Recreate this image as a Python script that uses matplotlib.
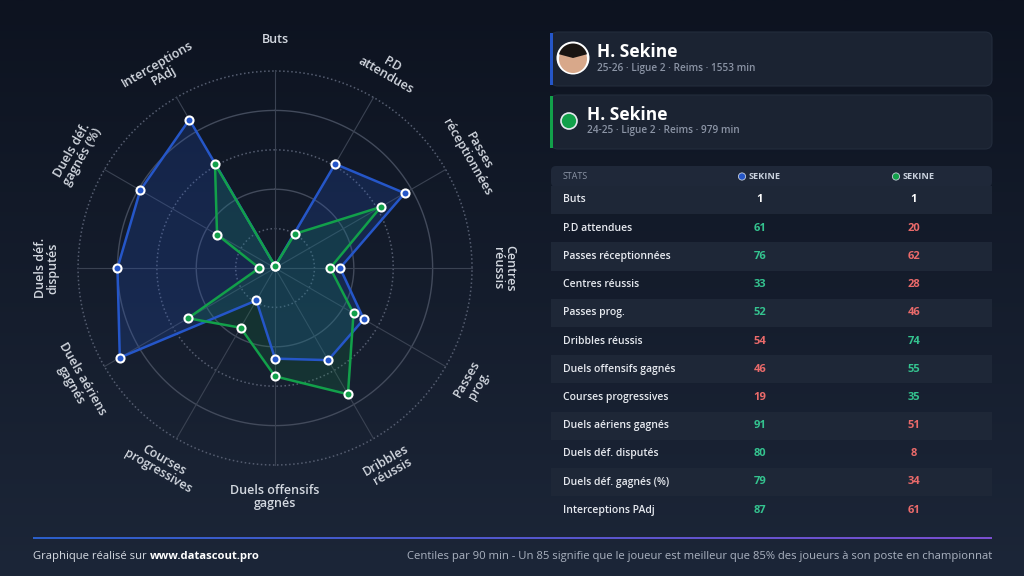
import numpy as np
import matplotlib
matplotlib.use("Agg")
import matplotlib.pyplot as plt
import matplotlib.patches as mpatches
from matplotlib.colors import LinearSegmentedColormap

plt.rcParams['font.family'] = ['Open Sans', 'DejaVu Sans']

# data
stats = ["Buts", "P.D attendues", "Passes réceptionnées", "Centres réussis",
         "Passes prog.", "Dribbles réussis", "Duels offensifs gagnés",
         "Courses progressives", "Duels aériens gagnés", "Duels déf. disputés",
         "Duels déf. gagnés (%)", "Interceptions PAdj"]
radar_labels = ["Buts", "P.D\nattendues", "Passes\nréceptionnées", "Centres\nréussis",
                "Passes\nprog.", "Dribbles\nréussis", "Duels offensifs\ngagnés",
                "Courses\nprogressives", "Duels aériens\ngagnés", "Duels déf.\ndisputés",
                "Duels déf.\ngagnés (%)", "Interceptions\nPAdj"]
vals_2526 = [1, 61, 76, 33, 52, 54, 46, 19, 91, 80, 79, 87]
vals_2425 = [1, 20, 62, 28, 46, 74, 55, 35, 51, 8, 34, 61]

player = "H. Sekine"
sub_2526 = "25-26 · Ligue 2 · Reims · 1553 min"
sub_2425 = "24-25 · Ligue 2 · Reims · 979 min"
col_name = "SEKINE"

BLUE = '#2556c8'
GREEN = '#12a04a'
UP = '#34c38f'
DOWN = '#ea6a6a'
TXT = '#e6e9ef'
MUTED = '#8b94a5'
CARD = '#1b2332'


def main():
    fig = plt.figure(figsize=(10.24, 5.76), dpi=100)

    # background layer in pixel coords
    bg = fig.add_axes([0, 0, 1, 1])
    bg.set_xlim(0, 1024)
    bg.set_ylim(576, 0)
    bg.axis('off')
    grad = np.linspace(0, 1, 256).reshape(-1, 1)
    cmap = LinearSegmentedColormap.from_list('bg', ['#0d1320', '#1c2638'])
    bg.imshow(grad, extent=[0, 1024, 576, 0], cmap=cmap, aspect='auto', zorder=0)

    # player cards
    cards = [(32, BLUE, sub_2526, True), (95, GREEN, sub_2425, False)]
    for top, col, sub, photo in cards:
        bg.add_patch(mpatches.FancyBboxPatch((551, top), 441, 54,
                     boxstyle="round,pad=0,rounding_size=7",
                     fc=CARD, ec='#232c3c', lw=0.8, zorder=1))
        bg.add_patch(mpatches.Rectangle((550, top + 1), 3, 52, fc=col, zorder=2))
        if photo:
            bg.add_patch(mpatches.Circle((573, top + 26), 16.5, fc='white', zorder=2))
            bg.add_patch(mpatches.Circle((573, top + 27), 14, fc='#d8a88a', zorder=3))
            bg.add_patch(mpatches.Wedge((573, top + 26), 14.5, 195, 345, fc='#1a1512', zorder=4))
            tx = 597
        else:
            bg.add_patch(mpatches.Circle((569, top + 26), 8, fc=GREEN, ec='#e6e9ef', lw=1.2, zorder=3))
            tx = 587
        bg.text(tx, top + 20, player, color='white', fontsize=12.5, fontweight='bold',
                va='center', ha='left', zorder=5)
        bg.text(tx, top + 36, sub, color=MUTED, fontsize=7.2, fontweight='semibold',
                va='center', ha='left', zorder=5)

    # stats table
    cx1, cx2 = 760, 914
    bg.add_patch(mpatches.FancyBboxPatch((551, 166), 441, 21,
                 boxstyle="round,pad=0,rounding_size=5", fc='#1f2839', ec='none', zorder=1))
    bg.text(563, 176.5, "STATS", color=MUTED, fontsize=6.4, va='center', ha='left', zorder=5)
    for cx, col in [(cx1, BLUE), (cx2, GREEN)]:
        bg.add_patch(mpatches.Circle((cx - 18, 176.5), 3.6, fc=col, ec='#c8d0dc', lw=0.6, zorder=5))
        bg.text(cx - 11, 176.5, col_name, color='#c8d0dc', fontsize=6.6, fontweight='bold',
                va='center', ha='left', zorder=5)

    row_h = 28.2
    for i, name in enumerate(stats):
        yc = 200 + i * row_h
        if i % 2 == 0:
            bg.add_patch(mpatches.Rectangle((551, yc - row_h / 2), 441, row_h,
                         fc='#1e2737', ec='none', zorder=1))
        a, b = vals_2526[i], vals_2425[i]
        if a == b:
            ca = cb = 'white'
        else:
            ca = UP if a > b else DOWN
            cb = UP if b > a else DOWN
        bg.text(563, yc, name, color=TXT, fontsize=7.5, fontweight='semibold',
                va='center', ha='left', zorder=5)
        bg.text(cx1, yc, str(a), color=ca, fontsize=8, fontweight='bold',
                va='center', ha='center', zorder=5)
        bg.text(cx2, yc, str(b), color=cb, fontsize=8, fontweight='bold',
                va='center', ha='center', zorder=5)

    # footer
    hgrad = np.linspace(0, 1, 256).reshape(1, -1)
    lcmap = LinearSegmentedColormap.from_list('ln', ['#2b5fc9', '#7a4fd0'])
    bg.imshow(hgrad, extent=[33, 992, 539.3, 537.3], cmap=lcmap, aspect='auto', zorder=2)
    t = bg.text(33, 556, "Graphique réalisé sur ", color='#d5dae2', fontsize=8.1,
                va='center', ha='left')
    fig.canvas.draw()
    ext = t.get_window_extent()
    x_end = ext.x1
    bg.annotate("www.datascout.pro", xy=(x_end, 576 - 556), xycoords='figure pixels',
                color='white', fontsize=8.1, fontweight='bold', va='center', ha='left')
    bg.text(992, 556, "Centiles par 90 min - Un 85 signifie que le joueur est meilleur "
            "que 85% des joueurs à son poste en championnat",
            color='#aab2c0', fontsize=8.1, va='center', ha='right')
    bg.set_xlim(0, 1024)
    bg.set_ylim(576, 0)

    # radar
    ax = fig.add_axes([0.0762, 0.1927, 0.3848, 0.684], projection='polar')
    ax.set_facecolor('none')
    ax.set_theta_zero_location('N')
    ax.set_theta_direction(-1)
    ax.set_ylim(0, 100)
    ax.spines['polar'].set_visible(False)
    ax.grid(False)
    ax.set_xticks([])
    ax.set_yticks([])

    n = len(stats)
    angles = np.arange(n) * 2 * np.pi / n
    full = np.linspace(0, 2 * np.pi, 400)
    for r, ls in [(20, ':'), (40, '-'), (60, ':'), (80, '-'), (100, ':')]:
        ax.plot(full, np.full_like(full, r), color='#424a5b' if ls == '-' else '#555d70',
                lw=1.0 if ls == '-' else 1.1, ls=ls, zorder=1, clip_on=False)
    for a in angles:
        ax.plot([a, a], [0, 100], color='#3a4252', lw=0.8, zorder=1, clip_on=False)

    ang_c = np.append(angles, angles[0])
    for vals, col, fa in [(vals_2526, BLUE, 0.22), (vals_2425, GREEN, 0.16)]:
        v = np.append(vals, vals[0])
        ax.fill(ang_c, v, color=col, alpha=fa, lw=0, zorder=2)
        ax.plot(ang_c, v, color=col, lw=1.8, zorder=3, clip_on=False)
        ax.plot(angles, vals, ls='none', marker='o', ms=5.8, mfc=col, mec='white',
                mew=1.5, zorder=4, clip_on=False)

    for i, (a, lab) in enumerate(zip(angles, radar_labels)):
        deg = i * 360 / n
        rot = -deg if (deg <= 90 or deg >= 270) else 180 - deg
        ax.text(a, 116, lab, color='#d3d8e0', fontsize=9, fontweight='semibold',
                ha='center', va='center', rotation=rot, rotation_mode='anchor',
                linespacing=1.0)

    fig.savefig("out.png", dpi=100)


if __name__ == "__main__":
    main()
